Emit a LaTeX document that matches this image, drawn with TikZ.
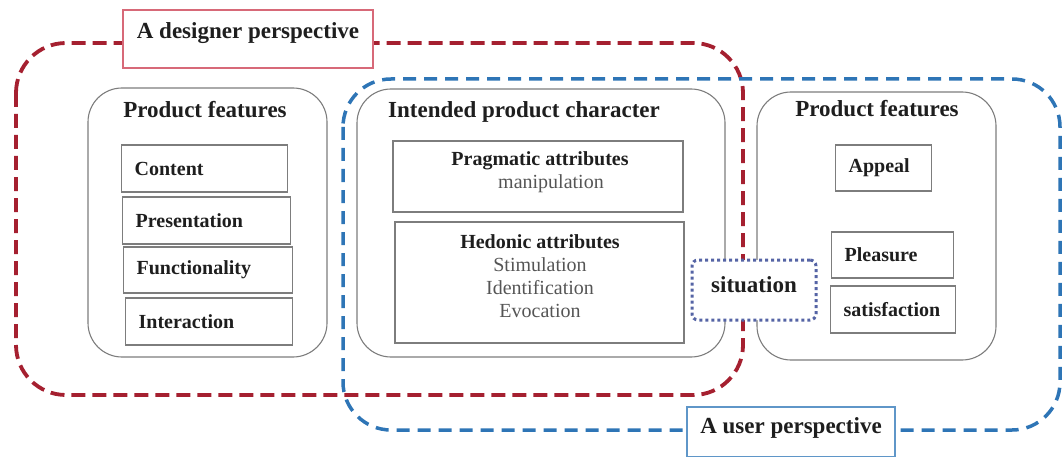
\documentclass[tikz,border=0pt]{standalone}
\usepackage{fontspec}
\setmainfont{Liberation Serif}
\usetikzlibrary{positioning}
\definecolor{designred}{RGB}{165,32,48}
\definecolor{userblue}{RGB}{46,117,182}
\definecolor{boxgray}{RGB}{125,125,125}
\definecolor{sitblue}{RGB}{85,100,165}
\definecolor{labelpink}{RGB}{215,105,120}
\definecolor{labelblue}{RGB}{95,150,200}
\definecolor{inktext}{RGB}{30,30,30}
\definecolor{softtext}{RGB}{85,85,85}

\begin{document}
\begin{tikzpicture}[x=1pt,y=-1pt,
	groupbox/.style={draw=boxgray, line width=1.1pt, rounded corners=34pt, inner sep=0pt},
	itembox/.style={draw=boxgray, line width=1.3pt, inner ysep=0pt, inner xsep=13pt,
		text width=#1, align=left, anchor=west, font=\myfontbox, text=inktext},
	attrbox/.style={draw=boxgray, line width=1.3pt, inner sep=0pt},
	attrtext/.style={align=center, inner sep=0pt, font=\myfontplain, text=softtext},
	grouptitle/.style={font=\myfonthead, text=inktext, inner sep=0pt},
	designline/.style={draw=designred, line width=3.8pt, rounded corners=50pt,
		dash pattern=on 14pt off 7pt},
	userline/.style={draw=userblue, line width=3.5pt, rounded corners=48pt,
		dash pattern=on 13pt off 8pt},
	perspbox/.style={line width=1.4pt, fill=white, font=\myfonthead, text=inktext, inner sep=0pt}]
	\newcommand{\myfonthead}{\fontsize{23}{26}\selectfont\bfseries}
	\newcommand{\myfontbox}{\fontsize{20}{23}\selectfont\bfseries}
	\newcommand{\myfontplain}{\fontsize{20}{23}\selectfont}
	%Canvas
	\useasboundingbox (0,0) rectangle (1064,457);
	%Group boxes
	\node[groupbox, minimum width=239, minimum height=269] (pfL) at (207.5,222.5) {};
	\node[groupbox, minimum width=368, minimum height=268] (ipc) at (541,223) {};
	\node[groupbox, minimum width=239, minimum height=268] (pfR) at (876.5,226) {};
	\node[grouptitle] (pfLtitle) at (205,110) {Product features};
	\node[grouptitle] (ipctitle) at (524,112) {Intended product character};
	\node[grouptitle] (pfRtitle) at (877,109) {Product features};
	%Product features (designer side)
	\node[itembox=140, minimum height=47] (content) at (121,168.5) {Content};
	\node[itembox=142, minimum height=47] (presentation) at (122,220.5) {Presentation};
	\node[itembox=143, minimum height=46] (functionality) at (123,270) {Functionality};
	\node[itembox=141, minimum height=47] (interaction) at (125,321.5) {Interaction};
	%Attributes
	\node[attrbox, minimum width=290, minimum height=71] (pragmatic) at (538,176.5) {};
	\node[attrtext] (pragmatictxt) at (540,172)
		{{\myfontbox\color{inktext}Pragmatic attributes}\\\hspace*{22pt}manipulation};
	\node[attrbox, minimum width=289, minimum height=121] (hedonic) at (539.5,282.5) {};
	\node[attrtext] (hedonictxt) at (540,276)
		{{\myfontbox\color{inktext}Hedonic attributes}\\Stimulation\\Identification\\Evocation};
	%Product features (user side)
	\node[itembox=70, minimum height=46] (appeal) at (835,168) {Appeal};
	\node[itembox=96, minimum height=46] (pleasure) at (831,255) {Pleasure};
	\node[itembox=99, minimum height=47] (satisfaction) at (830,309.5) {satisfaction};
	%Perspectives
	\draw[designline] (16,43) rectangle (743,395);
	\draw[userline] (343,79) rectangle (1060,430);
	\node[perspbox, draw=labelpink, minimum width=250, minimum height=58, text depth=16pt] (designer) at (248,39) {A designer perspective};
	\node[perspbox, draw=labelblue, minimum width=208, minimum height=50, text depth=12pt] (user) at (791,432) {A user perspective};
	%Situation
	\node[perspbox, draw=sitblue, line width=3pt, dash pattern=on 3pt off 3pt, rounded corners=6pt,
		minimum width=124, minimum height=60, text depth=10pt] (situation) at (754,290) {situation};
\end{tikzpicture}
\end{document}
